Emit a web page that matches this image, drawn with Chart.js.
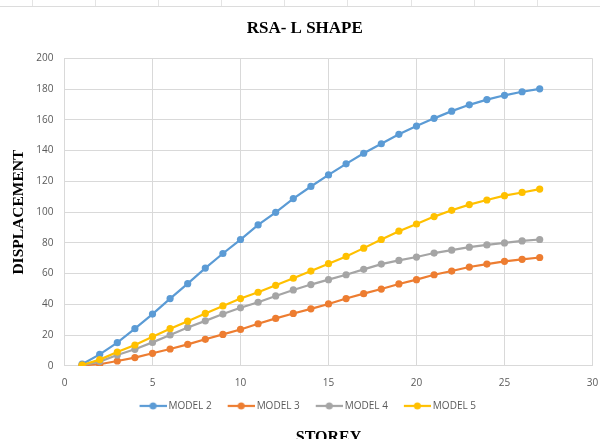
<!DOCTYPE html>
<html>
<head>
<meta charset="utf-8">
<title>RSA- L SHAPE</title>
<script src="https://cdn.jsdelivr.net/npm/chart.js@4.4.1/dist/chart.umd.min.js"></script>
<style>
    html, body { margin: 0; padding: 0; background: #fff; overflow: hidden; }
    #wrap { position: relative; width: 600px; height: 452px; }
    /* faint sheet border at the very top of the screenshot */
    #sheet-edge {
        position: absolute; left: 0; top: 0; width: 600px; height: 6px;
        border-bottom: 1px solid #dcdcdc;
        background-image: repeating-linear-gradient(to right, transparent 0 32px, #e4e4e4 32px 33px, transparent 33px 63.1px);
    }
</style>
</head>
<body>
<div id="wrap">
    <div id="sheet-edge"></div>
    <canvas id="rsa-chart" width="600" height="452"></canvas>
</div>
<script>
// storey numbers (x axis)
const storeys = [1, 2, 3, 4, 5, 6, 7, 8, 9, 10, 11, 12, 13, 14, 15, 16, 17, 18, 19, 20, 21, 22, 23, 24, 25, 26, 27];

// displacement per storey
const model2 = [1.1, 7.5, 15.1, 24.2, 33.7, 43.8, 53.5, 63.6, 73.1, 82.2, 91.7, 99.9, 108.8, 116.7, 124.2, 131.4, 138.3, 144.5, 150.6, 156.0, 161.0, 165.7, 169.8, 173.2, 176.0, 178.3, 180.2];
const model3 = [0.4, 1.1, 3.2, 5.4, 8.2, 11.0, 14.0, 17.3, 20.5, 23.7, 27.4, 30.9, 34.1, 37.1, 40.3, 43.8, 47.0, 50.0, 53.3, 56.1, 59.3, 61.7, 64.3, 66.2, 68.0, 69.3, 70.5];
const model4 = [0.4, 2.8, 7.1, 10.8, 15.3, 20.1, 25.0, 29.3, 33.7, 37.8, 41.4, 45.5, 49.4, 52.9, 56.1, 59.3, 62.8, 66.2, 68.6, 70.8, 73.4, 75.3, 77.2, 78.7, 80.0, 81.3, 82.2];
const model5 = [0.6, 4.1, 9.0, 13.6, 19.0, 24.2, 29.1, 34.1, 39.0, 43.8, 47.9, 52.4, 57.0, 61.7, 66.5, 71.2, 76.6, 82.2, 87.6, 92.3, 97.1, 101.2, 104.9, 107.9, 110.7, 112.8, 115.0];

const seriesNames = ["MODEL 2", "MODEL 3", "MODEL 4", "MODEL 5"];
const seriesColors = ["#5B9BD5", "#ED7D31", "#A5A5A5", "#FFC000"];

const tickFont = { family: "'Open Sans', sans-serif", size: 10 };
const tickColor = "#595959";
const gridColor = "#d9d9d9";

// excel style legend marker: short line with a dot in the middle
function legendMarker(color) {
    const c = document.createElement("canvas");
    c.width = 36;
    c.height = 10;
    const ctx = c.getContext("2d");
    ctx.strokeStyle = color;
    ctx.lineWidth = 2.2;
    ctx.beginPath();
    ctx.moveTo(9, 5);
    ctx.lineTo(36, 5);
    ctx.stroke();
    ctx.fillStyle = color;
    ctx.beginPath();
    ctx.arc(22.5, 5, 3.5, 0, Math.PI * 2);
    ctx.fill();
    return c;
}
const markers = seriesColors.map(legendMarker);

function toPoints(values) {
    return values.map((v, i) => ({ x: storeys[i], y: v }));
}

const allSeries = [model2, model3, model4, model5];
const datasets = allSeries.map((vals, i) => ({
    label: seriesNames[i],
    data: toPoints(vals),
    borderColor: seriesColors[i],
    backgroundColor: seriesColors[i],
    borderWidth: 2.2,
    pointRadius: 3.6,
    pointBorderWidth: 0,
    pointBackgroundColor: seriesColors[i],
    tension: 0,
    order: allSeries.length - i
}));

new Chart(document.getElementById("rsa-chart"), {
    type: "line",
    data: { datasets: datasets },
    options: {
        responsive: false,
        animation: false,
        layout: { padding: { left: 17, right: 7.5, top: 0, bottom: 0 } },
        plugins: {
            title: {
                display: true,
                text: "RSA- L SHAPE",
                color: "#000",
                font: { family: "'Liberation Serif', 'Times New Roman', serif", size: 17, weight: "bold" },
                padding: { top: 18.5, bottom: 19.5 }
            },
            subtitle: {
                display: true,
                position: "bottom",
                fullSize: false,
                text: "STOREY",
                color: "#000",
                font: { family: "'Liberation Serif', 'Times New Roman', serif", size: 16, weight: "bold" },
                padding: { top: 6.9, bottom: 5 }
            },
            legend: {
                position: "bottom",
                labels: {
                    usePointStyle: true,
                    pointStyleWidth: 30,
                    padding: 10,
                    color: tickColor,
                    font: tickFont,
                    sort: (a, b) => a.datasetIndex - b.datasetIndex,
                    generateLabels: function (chart) {
                        const items = Chart.defaults.plugins.legend.labels.generateLabels(chart);
                        items.forEach(it => { it.pointStyle = markers[it.datasetIndex]; });
                        return items;
                    }
                }
            },
            tooltip: { enabled: false }
        },
        scales: {
            x: {
                type: "linear",
                min: 0,
                max: 30,
                ticks: { stepSize: 5, color: tickColor, font: tickFont, padding: 11, maxRotation: 0 },
                grid: { color: gridColor, drawTicks: false, tickLength: 0 },
                border: { color: gridColor },
                afterFit: function (scale) {
                    scale.height = 25;
                    scale.paddingLeft = 0;
                    scale.paddingRight = 0;
                }
            },
            y: {
                min: 0,
                max: 200,
                ticks: { stepSize: 20, color: tickColor, font: tickFont, padding: 11 },
                grid: { color: gridColor, drawTicks: false, tickLength: 0 },
                border: { color: gridColor },
                title: {
                    display: true,
                    text: "DISPLACEMENT",
                    color: "#000",
                    font: { family: "'Liberation Serif', 'Times New Roman', serif", size: 15.5, weight: "bold" },
                    padding: { top: -7.3, bottom: 0 }
                },
                afterFit: function (scale) {
                    scale.width = 47.5;
                    scale.paddingTop = 0;
                    scale.paddingBottom = 0;
                }
            }
        }
    }
});
</script>
</body>
</html>
